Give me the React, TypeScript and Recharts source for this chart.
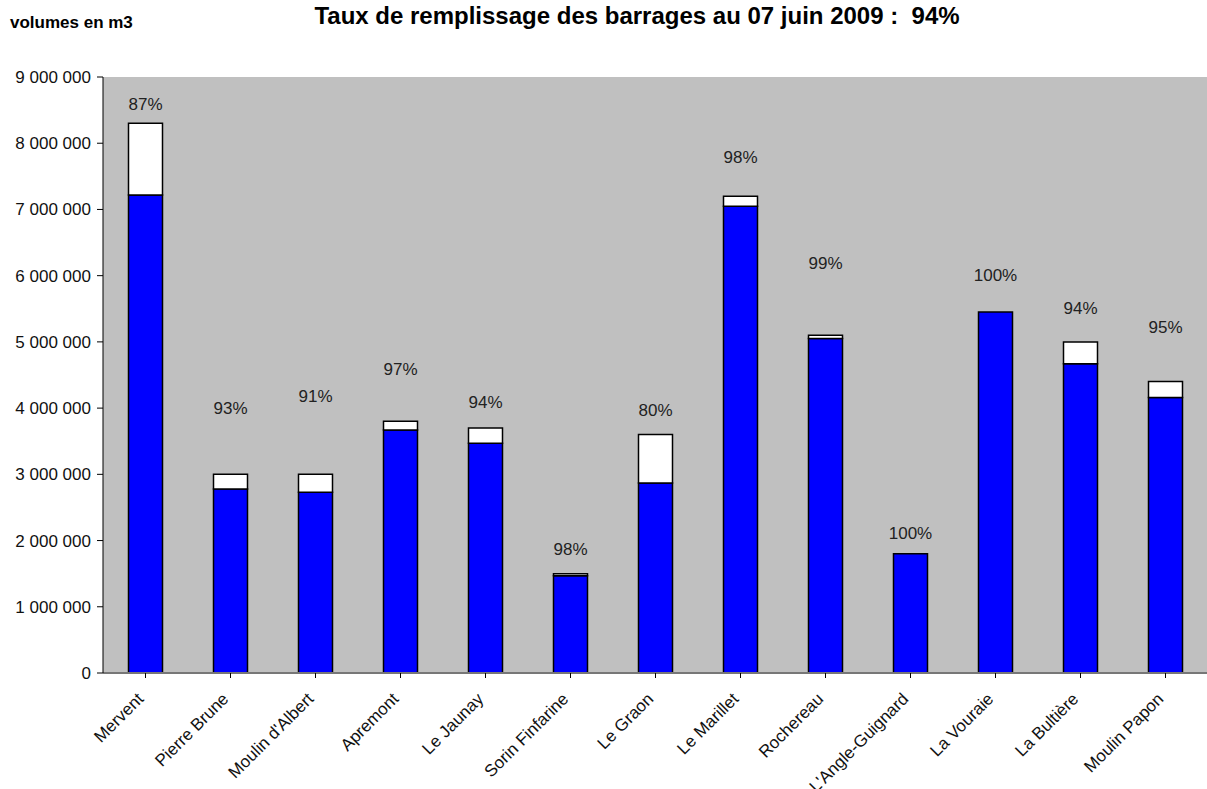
import React from "react";
import { ComposedChart, Bar, Line, XAxis, YAxis, CartesianGrid, LabelList } from "recharts";

const categories = ["Mervent", "Pierre Brune", "Moulin d'Albert", "Apremont", "Le Jaunay", "Sorin Finfarine", "Le Graon", "Le Marillet", "Rochereau", "L'Angle-Guignard", "La Vouraie", "La Bultière", "Moulin Papon"];
const capacity = [8300000, 3000000, 3000000, 3800000, 3700000, 1500000, 3600000, 7200000, 5100000, 1800000, 5450000, 5000000, 4400000];
const filled = [7220000, 2780000, 2730000, 3670000, 3470000, 1470000, 2870000, 7050000, 5050000, 1800000, 5450000, 4670000, 4160000];
const pctLabels = ["87%", "93%", "91%", "97%", "94%", "98%", "80%", "98%", "99%", "100%", "100%", "94%", "95%"];
const labelPos = [8580000, 4000000, 4180000, 4590000, 4090000, 1860000, 3960000, 7790000, 6180000, 2100000, 6010000, 5510000, 5220000];
const yTicks = [0, 1000000, 2000000, 3000000, 4000000, 5000000, 6000000, 7000000, 8000000, 9000000];

const data = categories.map((name, i) => ({
  name,
  filled: filled[i],
  empty: capacity[i] - filled[i],
  labelPos: labelPos[i],
  pct: pctLabels[i],
}));

const FONT = "'Liberation Sans', Arial, sans-serif";

const fmt = (v: number) => String(v).replace(/\B(?=(\d{3})+(?!\d))/g, " ");

const XTick = (props: any) => {
  const { x, y, payload } = props;
  const ax = x - 1;
  const ay = y + 20;
  return (
    <text x={ax} y={ay} transform={`rotate(-45, ${ax}, ${ay})`} textAnchor="end" fontSize={17} fontFamily={FONT} fill="#111">
      {payload.value}
    </text>
  );
};

const PctLabel = (props: any) => {
  const { x, y, value } = props;
  return (
    <text x={x} y={y} textAnchor="middle" dominantBaseline="central" fontSize={17} fontFamily={FONT} fill="#222">
      {value}
    </text>
  );
};

export default function App() {
  return (
    <div style={{ position: "absolute", left: 0, top: 0, width: 1207, height: 789, overflow: "hidden", background: "#fff" }}>
      <svg style={{ position: "absolute", left: 0, top: 0 }} width={1207} height={60}>
        <text x={10} y={28} fontSize={17} fontWeight="bold" fontFamily={FONT} fill="#000">volumes en m3</text>
        <text x={637} y={24} textAnchor="middle" fontSize={24} fontWeight="bold" fontFamily={FONT} fill="#000" xmlSpace="preserve">Taux de remplissage des barrages au 07 juin 2009 :  94%</text>
      </svg>
      <div style={{ position: "absolute", left: 0, top: 0 }}>
        <ComposedChart width={1208} height={789} data={data} margin={{ top: 77, right: 0, bottom: 0, left: 0 }} barCategoryGap="30%">
          <CartesianGrid fill="#c0c0c0" horizontal={false} vertical={false} stroke="none" />
          <XAxis dataKey="name" interval={0} tick={<XTick />} tickLine={{ stroke: "#000" }} axisLine={{ stroke: "#777", strokeWidth: 2 }} tickSize={5} height={116} />
          <YAxis type="number" domain={[0, 9000000]} ticks={yTicks} tickFormatter={fmt} width={103} interval={0}
            tick={{ fontSize: 17, fontFamily: FONT, fill: "#111" }} tickLine={{ stroke: "#000" }} axisLine={{ stroke: "#000" }} tickSize={6} tickMargin={6} />
          <Bar dataKey="filled" stackId="a" fill="#0000ff" stroke="#000" strokeWidth={1.5} isAnimationActive={false} />
          <Bar dataKey="empty" stackId="a" fill="#ffffff" stroke="#000" strokeWidth={1.5} isAnimationActive={false} />
          <Line dataKey="labelPos" stroke="none" strokeOpacity={0} dot={false} activeDot={false} isAnimationActive={false}>
            <LabelList dataKey="pct" content={<PctLabel />} />
          </Line>
        </ComposedChart>
      </div>
    </div>
  );
}
